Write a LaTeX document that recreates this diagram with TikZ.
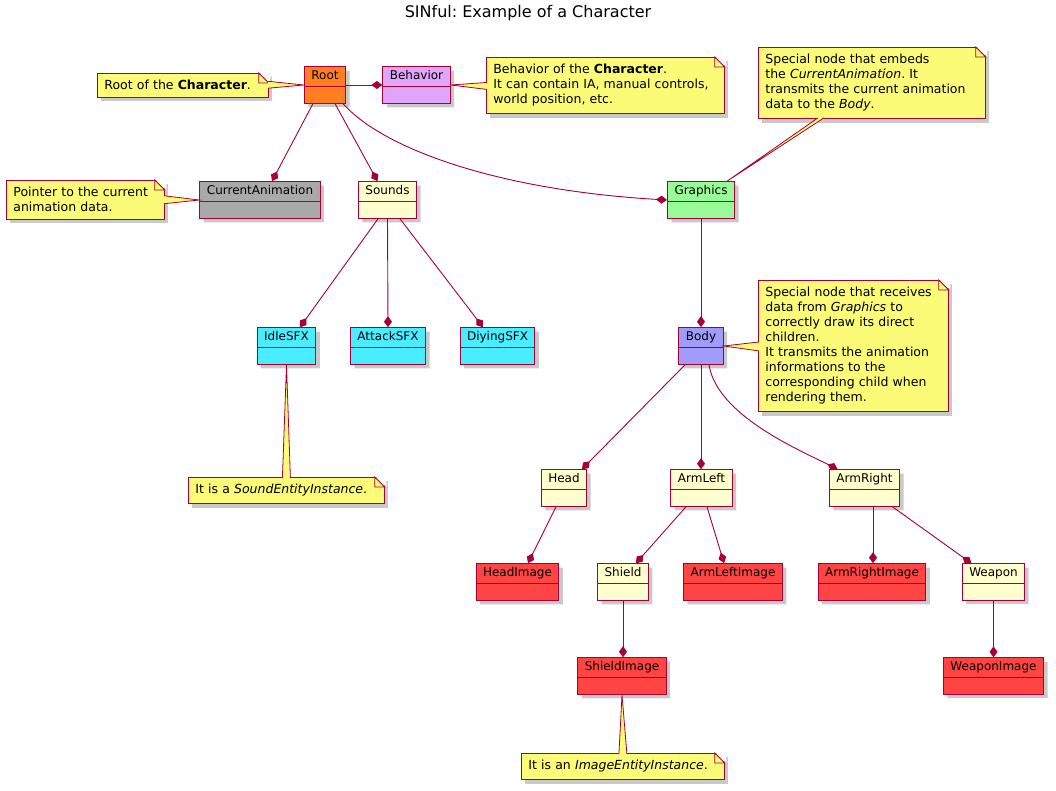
\documentclass[tikz,border=0pt]{standalone}
\usepackage{fontspec}
\setmainfont{DejaVu Sans}
\frenchspacing
\usetikzlibrary{shapes.multipart,shadows,arrows.meta,calc}

\definecolor{umlred}{HTML}{A80036}
\definecolor{objfill}{HTML}{FEFECE}
\definecolor{notefill}{HTML}{FBFB77}
\definecolor{rootfill}{HTML}{FF7F20}
\definecolor{behfill}{HTML}{E0A4F8}
\definecolor{cafill}{HTML}{A9A9A9}
\definecolor{gfxfill}{HTML}{98FB98}
\definecolor{sfxfill}{HTML}{48EEFF}
\definecolor{bodyfill}{HTML}{A09CF8}
\definecolor{imgfill}{HTML}{FF4444}

\tikzset{
  shade/.style={drop shadow={shadow xshift=4pt,shadow yshift=-4pt,opacity=0.3,fill=black!70}},
  obj/.style={rectangle split,rectangle split parts=2,draw=umlred,fill=objfill,
    line width=1pt,inner xsep=7pt,inner ysep=3pt,font=\fontsize{12}{14}\selectfont,
    rectangle split empty part height=8pt,rectangle split empty part depth=2pt,
    execute at begin node={\rule[-3.5pt]{0pt}{12pt}},shade},
  note/.style={draw=umlred,fill=notefill,line width=0.8pt,align=left,anchor=north west,
    inner xsep=7pt,inner ysep=7pt,font=\fontsize{12.5}{15}\selectfont,shade},
  comp/.style={draw=umlred,line width=0.9pt,-{Diamond[length=11pt,width=8pt]}},
  tail/.style={draw=umlred,fill=notefill,line width=0.8pt},
}

% folded corner of a note
\newcommand{\dogear}[1]{%
  \fill[white] ([xshift=-10pt,yshift=1pt]#1.north east) -- ([xshift=1.5pt,yshift=1pt]#1.north east)
    -- ([xshift=1.5pt,yshift=-10pt]#1.north east) -- cycle;
  \draw[umlred,line width=0.8pt,fill=notefill] ([xshift=-10pt]#1.north east) -- ([yshift=-10pt]#1.north east)
    -- ([xshift=-10pt,yshift=-10pt]#1.north east) -- cycle;}

\begin{document}
\begin{tikzpicture}[x=1pt,y=-1pt]
\useasboundingbox (0,0) rectangle (1056,790);

\node (title) at (528,13) {\fontsize{16}{18}\selectfont SINful: Example of a Character};

% objects
\node[obj,fill=rootfill] (root) at (325,85) {Root};
\node[obj,fill=behfill] (behavior) at (416.5,85) {Behavior};
\node[obj,fill=cafill] (ca) at (260,200) {CurrentAnimation};
\node[obj] (sounds) at (387.5,200) {Sounds};
\node[obj,fill=gfxfill] (gfx) at (701,200) {Graphics};
\node[obj,fill=sfxfill] (idle) at (286.5,346) {IdleSFX};
\node[obj,fill=sfxfill] (attack) at (388,346) {AttackSFX};
\node[obj,fill=sfxfill] (dying) at (497.5,346) {DiyingSFX};
\node[obj,fill=bodyfill] (body) at (701,346) {Body};
\node[obj] (head) at (564,488) {Head};
\node[obj] (armleft) at (701.5,488) {ArmLeft};
\node[obj] (armright) at (864.5,488) {ArmRight};
\node[obj,fill=imgfill] (headimg) at (517.5,582) {HeadImage};
\node[obj] (shield) at (623,582) {Shield};
\node[obj,fill=imgfill] (armleftimg) at (733,582) {ArmLeftImage};
\node[obj,fill=imgfill] (armrightimg) at (872,582) {ArmRightImage};
\node[obj] (weapon) at (993.5,582) {Weapon};
\node[obj,fill=imgfill] (shieldimg) at (622,676) {ShieldImage};
\node[obj,fill=imgfill] (weaponimg) at (993.5,676) {WeaponImage};

% compositions
\draw[comp] (root.east) -- (behavior.west);
\draw[comp] ($(root.south)+(-12,0)$) -- ($(ca.north)+(12,0)$);
\draw[comp] ($(root.south)+(10,0)$) -- ($(sounds.north)+(-10,0)$);
\draw[comp] ($(root.south)+(18,0)$) .. controls +(40,45) and +(-170,-10) .. (gfx.west);
\draw[comp] ($(sounds.south)+(-9.5,0)$) -- ($(idle.north)+(13.5,0)$);
\draw[comp] (sounds.south) -- (attack.north);
\draw[comp] ($(sounds.south)+(12.5,0)$) -- ($(dying.north)+(-14.5,0)$);
\draw[comp] (gfx.south) -- (body.north);
\draw[comp] ($(body.south)+(-16,0)$) -- ($(head.north)+(18,0)$);
\draw[comp] (body.south) -- (body.south |- armleft.north);
\draw[comp] ($(body.south)+(8,0)$) .. controls +(8,50) and +(-40,-20) .. ($(armright.north)+(-27,0)$);
\draw[comp] ($(head.south)+(-8,0)$) -- ($(headimg.north)+(10.5,0)$);
\draw[comp] ($(armleft.south)+(-15.5,0)$) -- ($(shield.north)+(13,0)$);
\draw[comp] ($(armleft.south)+(5.5,0)$) -- ($(armleftimg.north)+(-9,0)$);
\draw[comp] ($(armright.south)+(8.5,0)$) -- ($(armrightimg.north)+(1,0)$);
\draw[comp] ($(armright.south)+(28,0)$) -- ($(weapon.north)+(-22,0)$);
\draw[comp] (shield.south) -- (shield.south |- shieldimg.north);
\draw[comp] (weapon.south) -- (weaponimg.north);

% notes
\node[note,text width=157pt] (rootnote) at (97,73) {Root of the \textbf{Character}.};
\dogear{rootnote}
\filldraw[tail] ($(rootnote.east)+(-1,-4)$) -- (root.west) -- ($(rootnote.east)+(-1,3)$);

\node[note,text width=224pt] (behnote) at (486,57) {Behavior of the \textbf{Character}.\\It can contain IA, manual controls,\\world position, etc.};
\dogear{behnote}
\filldraw[tail] ($(behnote.west)+(1,-3)$) -- (behavior.east) -- ($(behnote.west)+(1,4)$);

\node[note,text width=213pt] (gfxnote) at (758,47) {Special node that embeds\\the \textit{CurrentAnimation}. It\\transmits the current animation\\data to the \textit{Body}.};
\dogear{gfxnote}
\filldraw[tail] ($(gfxnote.south)+(-54,-1)$) -- ($(gfx.north)+(26,0)$) -- ($(gfxnote.south)+(-48,-1)$);

\node[note,text width=144pt] (canote) at (6,180) {Pointer to the current\\animation data.};
\dogear{canote}
\filldraw[tail] ($(canote.east)+(-1,-4)$) -- (ca.west) -- ($(canote.east)+(-1,4)$);

\node[note,text width=176pt] (bodynote) at (758,280) {Special node that receives\\data from \textit{Graphics} to\\correctly draw its direct\\children.\\It transmits the animation\\informations to the\\corresponding child when\\rendering them.};
\dogear{bodynote}
\filldraw[tail] ($(bodynote.west)+(1,-4)$) -- (body.east) -- ($(bodynote.west)+(1,5)$);

\node[note,text width=182pt] (sfxnote) at (188,477) {It is a \textit{SoundEntityInstance}.};
\dogear{sfxnote}
\filldraw[tail] ($(sfxnote.north)+(-4,1)$) -- (idle.south) -- ($(sfxnote.north)+(4,1)$);

\node[note,text width=189pt] (imgnote) at (521,753) {It is an \textit{ImageEntityInstance}.};
\dogear{imgnote}
\filldraw[tail] ($(imgnote.north)+(-4,1)$) -- (shieldimg.south) -- ($(imgnote.north)+(4,1)$);

\end{tikzpicture}
\end{document}
